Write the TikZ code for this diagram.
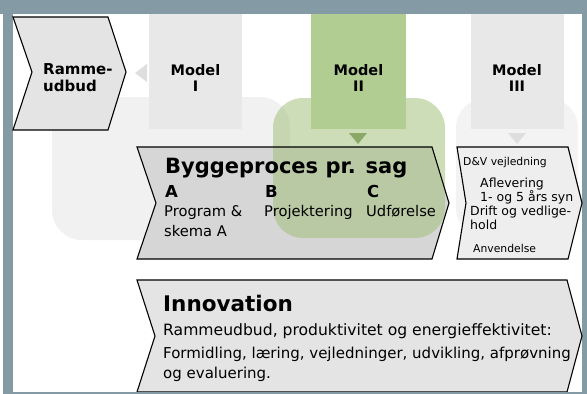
\documentclass[tikz,border=0pt]{standalone}
\usepackage{fontspec}
\setmainfont{DejaVu Sans}
\definecolor{framec}{RGB}{132,154,165}
\definecolor{bgl}{RGB}{241,241,241}
\definecolor{bgr}{RGB}{243,243,243}
\definecolor{chevlight}{RGB}{228,228,228}
\definecolor{chevmid}{RGB}{214,214,214}
\definecolor{chevpale}{RGB}{238,238,238}
\definecolor{boxgray}{RGB}{232,232,232}
\definecolor{boxgreen}{RGB}{178,205,145}
\definecolor{greenov}{RGB}{160,190,120}
\definecolor{tridark}{RGB}{140,168,105}
\definecolor{trigray}{RGB}{222,222,222}
\begin{document}
\begin{tikzpicture}[x=1pt,y=-1pt,
  chevline/.style={draw=black,line width=1.1pt,line join=miter},
  txt/.style={inner sep=0pt,anchor=base west},
  mtxt/.style={inner sep=0pt,anchor=base,font=\fontsize{14.5}{16}\selectfont\bfseries},
  modelbox/.style={inner sep=0pt,minimum width=93pt,minimum height=115pt,draw=none},
  bigtitle/.style={txt,font=\fontsize{21}{24}\selectfont\bfseries},
  letter/.style={txt,font=\fontsize{16.5}{19}\selectfont\bfseries},
  phase/.style={txt,font=\fontsize{14.7}{17}\selectfont},
  dvs/.style={txt,font=\fontsize{10.8}{12}\selectfont},
  dvl/.style={txt,font=\fontsize{12.5}{14}\selectfont},
  inno/.style={txt,font=\fontsize{15}{17}\selectfont},
]
\useasboundingbox (0,0) rectangle (587,394);
\fill[white] (0,0) rectangle (587,394);
% frame
\fill[framec] (0,0) rectangle (587,14);
\fill[framec] (3,0) rectangle (13,394);
\fill[framec] (582,0) rectangle (587,394);

% background rounded shapes
\fill[bgl, rounded corners=30pt] (52,97) rectangle (290,240);
\fill[bgr, rounded corners=30pt] (456,98) rectangle (578,238);

% Rammeudbud chevron
\filldraw[chevline, fill=chevlight] (13,17) -- (108,17) -- (126,72) -- (108,130) -- (13,130) -- (32,72) -- cycle;

% Byggeproces chevron fill
\fill[chevmid] (137,147) -- (432,147) -- (449,203) -- (432,259) -- (137,259) -- (156,203) -- cycle;

% green overlay shape
\fill[greenov, fill opacity=0.52, rounded corners=30pt] (273,98) rectangle (445,238);

% model boxes
\node[modelbox, fill=boxgray] (m1) at (195.5,71.5) {};
\node[modelbox, fill=boxgreen, minimum width=95pt] (m2) at (358.5,71.5) {};
\node[modelbox, fill=boxgray] (m3) at (517,71.5) {};

% small triangles
\fill[trigray] (135,73) -- (147,64) -- (147,82) -- cycle;
\fill[tridark] (349,133) -- (367,133) -- (358,144) -- cycle;
\fill[trigray] (508,133) -- (526,133) -- (517,144) -- cycle;

% Byggeproces outline
\draw[chevline] (137,147) -- (432,147) -- (449,203) -- (432,259) -- (137,259) -- (156,203) -- cycle;

% D&V chevron
\filldraw[chevline, fill=chevpale] (457,147) -- (568,147) -- (582,203) -- (568,259) -- (457,259) -- (466,203) -- cycle;

% Innovation chevron
\filldraw[chevline, fill=chevlight] (137,280) -- (567,280) -- (582,336) -- (567,392) -- (137,392) -- (155,336) -- cycle;

% bottom band
\fill[framec] (3,392) rectangle (587,394);

% texts
\node[txt, font=\fontsize{15}{17}\selectfont\bfseries] (r1) at (43,74) {Ramme-};
\node[txt, font=\fontsize{15}{17}\selectfont\bfseries] (r2) at (43,91) {udbud};

\node[mtxt] (m1a) at (195.5,75) {Model};
\node[mtxt] (m1b) at (195.5,91) {I};
\node[mtxt] (m2a) at (358.5,75) {Model};
\node[mtxt] (m2b) at (358.5,91) {II};
\node[mtxt] (m3a) at (517,75) {Model};
\node[mtxt] (m3b) at (517,91) {III};

\node[bigtitle] (bt) at (165,173) {Byggeproces pr. sag};
\node[letter] (la) at (165,197) {A};
\node[letter] (lb) at (265,197) {B};
\node[letter] (lc) at (367,197) {C};
\node[phase] (pa1) at (164,216) {Program \&};
\node[phase] (pa2) at (164,236) {skema A};
\node[phase] (pb) at (264,216) {Projektering};
\node[phase] (pc) at (366,216) {Udførelse};

\node[dvs] (d1) at (463,165) {D\&V vejledning};
\node[dvl] (d2) at (480,187) {Aflevering};
\node[dvl] (d3) at (480,201) {1- og 5 års syn};
\node[dvl] (d4) at (470,215) {Drift og vedlige-};
\node[dvl] (d5) at (470,229) {hold};
\node[dvs] (d6) at (473,252) {Anvendelse};

\node[txt, font=\fontsize{21.5}{24}\selectfont\bfseries] (it) at (163,311) {Innovation};
\node[inno, font=\fontsize{15.6}{17}\selectfont] (i1) at (163,335) {Rammeudbud, produktivitet og energieffektivitet:};
\node[inno] (i2) at (163,358) {Formidling, læring, vejledninger, udvikling, afprøvning};
\node[inno] (i3) at (163,378) {og evaluering.};
\end{tikzpicture}
\end{document}
